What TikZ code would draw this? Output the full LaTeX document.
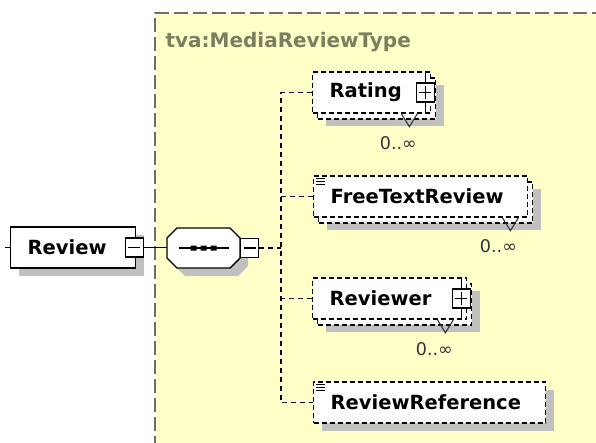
\documentclass[tikz,border=0pt]{standalone}
\usepackage{fontspec}
\setmainfont{DejaVu Sans}
\usetikzlibrary{positioning}
\usetikzlibrary{shadows,calc}
\definecolor{typefill}{RGB}{255,255,200}
\definecolor{typeline}{RGB}{110,110,110}
\definecolor{typetext}{RGB}{125,125,95}
\definecolor{shadowgray}{RGB}{192,192,192}
\newcommand{\elemfont}{\fontsize{19.5}{22}\selectfont\bfseries}
\tikzset{
	elembox/.style={draw=black,line width=1.4pt,fill=white,font=\elemfont,minimum height=41pt,inner xsep=17pt,align=left,anchor=west},
	elem/.style={elembox,general shadow={shadow xshift=8pt,shadow yshift=-8pt,fill=shadowgray,draw=none}},
	optelem/.style={elem,dash pattern=on 5pt off 3pt},
	manyelem/.style={elembox,dash pattern=on 5pt off 3pt,general shadow={shadow xshift=13pt,shadow yshift=-13pt,fill=shadowgray,draw=none},general shadow={shadow xshift=5pt,shadow yshift=-6pt,fill=white,draw=black,line width=1.4pt,dash pattern=on 5pt off 3pt}},
	seqframe/.style={minimum width=73pt,minimum height=40pt,inner sep=0pt,outer sep=0pt},
	seqline/.style={draw=black,line width=1.4pt,fill=white},
	ctrlbox/.style={draw=black,line width=1.2pt,fill=white,minimum width=18pt,minimum height=19pt,inner sep=0pt},
	minusbox/.style={ctrlbox,path picture={\draw[line width=1.2pt] ([xshift=3pt]path picture bounding box.west) -- ([xshift=-3pt]path picture bounding box.east);}},
	plusbox/.style={ctrlbox,path picture={\draw[line width=1.2pt] ([xshift=3pt]path picture bounding box.west) -- ([xshift=-3pt]path picture bounding box.east); \draw[line width=1.2pt] ([yshift=-3pt]path picture bounding box.north) -- ([yshift=3pt]path picture bounding box.south);}},
	link/.style={line width=1.4pt},
	optlink/.style={link,dash pattern=on 5pt off 4pt},
	mult/.style={font=\fontsize{17.5}{19}\selectfont,text=black!80},
	notch/.style={line width=1.1pt,black!80},
	texticon/.style={line width=0.9pt}
}
\begin{document}
\begin{tikzpicture}[x=1pt,y=-1pt]
	\useasboundingbox (0,0) rectangle (596,442);
	% complex type area
	\fill[typefill] (155,13) rectangle (600,450);
	\draw[typeline,line width=1.3pt,dash pattern=on 14pt off 5pt] (155,450) -- (155,13) -- (600,13);
	\node[anchor=west,font=\fontsize{20}{22}\selectfont\bfseries,text=typetext] (typename) at (162,42) {tva:MediaReviewType};

	% parent element and sequence
	\node[elem,text width=91pt] (review) at (10,247.5) {Review};
	\node[minusbox] (reviewminus) at ([xshift=-2pt]review.east) {};
	\coordinate (in) at (5,247.5); \draw[link] (in) -- (review.west);
	\node[seqframe] (seq) at (203.5,248) {};
	\fill[shadowgray] ([shift={(8,8)}]seq.north west) ++(10,0) -- ++(53,0) -- ++(10,10) -- ++(0,20) -- ++(-10,10) -- ++(-53,0) -- ++(-10,-10) -- ++(0,-20) -- cycle;
	\path[seqline] (seq.north west) ++(10,0) -- ++(53,0) -- ++(10,10) -- ++(0,20) -- ++(-10,10) -- ++(-53,0) -- ++(-10,-10) -- ++(0,-20) -- cycle;
	\node[minusbox,right=0pt of seq] (seqminus) {};
	\draw[link] (seq.center) ++(-25,0) -- ++(50,0);
	\fill (seq.center) ++(-13,-2.5) rectangle ++(6,5) ++(4,-5) rectangle ++(6,5) ++(4,-5) rectangle ++(6,5);
	\draw[link] (reviewminus.east) -- (reviewminus.east -| seq.west);

	% children
	\node[manyelem,text width=84pt] (rating) at (312,92.5) {Rating};
	\node[plusbox] (ratingplus) at ([xshift=-6pt]rating.east) {};
	\node[manyelem,text width=180pt] (ftr) at (313,196.5) {FreeTextReview};
	\node[manyelem,text width=120pt] (reviewer) at (312,298.5) {Reviewer};
	\node[plusbox] (reviewerplus) at ([xshift=-6pt]reviewer.east) {};
	\node[optelem,text width=198pt] (reviewref) at (313,402.5) {ReviewReference};
	\draw[link] (ratingplus.north) -- (ratingplus.north |- rating.north) (ratingplus.south) -- (ratingplus.south |- rating.south);
	\draw[link] (reviewerplus.north) -- (reviewerplus.north |- reviewer.north) (reviewerplus.south) -- (reviewerplus.south |- reviewer.south);
	\draw[texticon] (ftr.north west) ++(3,3) -- ++(9,0) ++(-9,3) -- ++(9,0) ++(-9,3) -- ++(9,0);
	\draw[texticon] (reviewref.north west) ++(3,3) -- ++(9,0) ++(-9,3) -- ++(9,0) ++(-9,3) -- ++(9,0);

	% occurrences
	\coordinate (ratingv) at ([xshift=-22pt]rating.south east);
	\draw[notch] (ratingv) ++(-8,0) -- ++(8,13) -- ++(8,-13);
	\node[mult] (ratingmult) at ($(ratingv)+(-11,29)$) {0..∞};
	\coordinate (ftrv) at ([xshift=-18pt]ftr.south east);
	\draw[notch] (ftrv) ++(-8,0) -- ++(8,13) -- ++(8,-13);
	\node[mult] (ftrmult) at ($(ftrv)+(-12,28)$) {0..∞};
	\coordinate (reviewerv) at ([xshift=-22pt]reviewer.south east);
	\draw[notch] (reviewerv) ++(-8,0) -- ++(8,13) -- ++(8,-13);
	\node[mult] (reviewermult) at ($(reviewerv)+(-11,29)$) {0..∞};

	% sequence branches
	\coordinate (bus) at (281,247.5);
	\draw[optlink] (seqminus.east) -- (seqminus.east -| bus);
	\draw[optlink] (rating.west) -- (rating.west -| bus) -- (reviewref.west -| bus) -- (reviewref.west);
	\draw[optlink] (ftr.west) -- (ftr.west -| bus);
	\draw[optlink] (reviewer.west) -- (reviewer.west -| bus);
\end{tikzpicture}
\end{document}
